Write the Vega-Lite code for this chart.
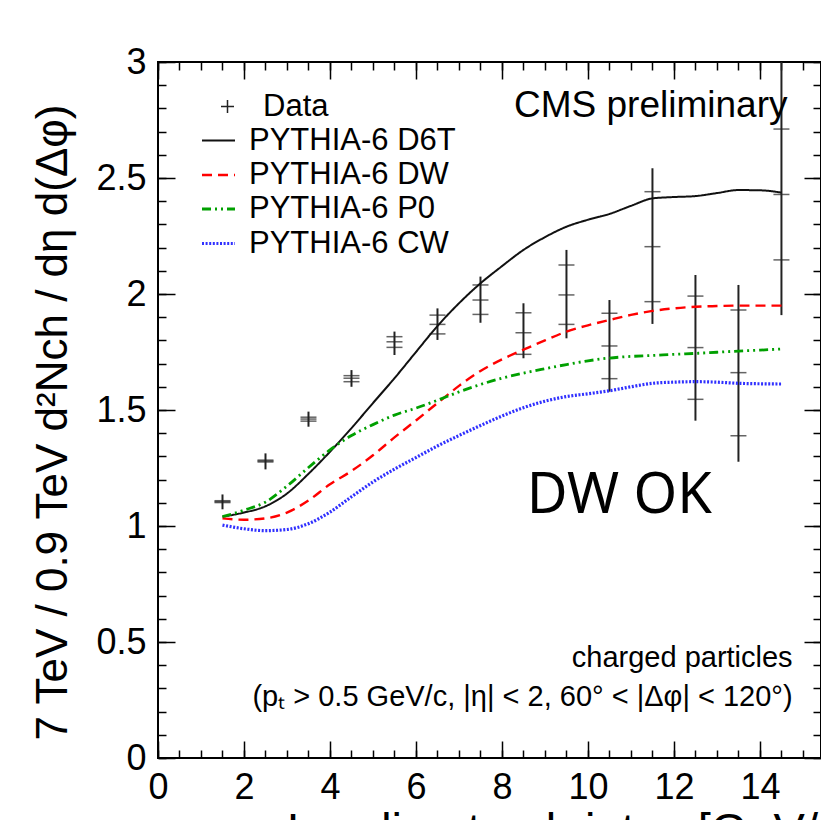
{
  "$schema": "https://vega.github.io/schema/vega-lite/v6.json",
  "width": 663,
  "height": 696,
  "autosize": {"type": "none"},
  "padding": {"left": 158, "top": 62, "right": 0, "bottom": 62},
  "background": "white",
  "config": {
    "font": "Liberation Sans",
    "view": {"stroke": "black", "strokeWidth": 2},
    "legend": {"padding": 0, "titlePadding": 0, "labelLimit": 500}
  },
  "datasets": {
    "pts": [
      {"x": 1.5, "val": 1.105, "lo": 1.072, "hi": 1.136, "slo": 1.101, "shi": 1.109},
      {"x": 2.5, "val": 1.280, "lo": 1.244, "hi": 1.313, "slo": 1.276, "shi": 1.284},
      {"x": 3.5, "val": 1.461, "lo": 1.428, "hi": 1.493, "slo": 1.452, "shi": 1.469},
      {"x": 4.5, "val": 1.637, "lo": 1.600, "hi": 1.672, "slo": 1.622, "shi": 1.648},
      {"x": 5.5, "val": 1.794, "lo": 1.737, "hi": 1.838, "slo": 1.770, "shi": 1.816},
      {"x": 6.5, "val": 1.869, "lo": 1.802, "hi": 1.938, "slo": 1.828, "shi": 1.909},
      {"x": 7.5, "val": 1.974, "lo": 1.876, "hi": 2.075, "slo": 1.912, "shi": 2.039},
      {"x": 8.5, "val": 1.833, "lo": 1.723, "hi": 1.960, "slo": 1.740, "shi": 1.919},
      {"x": 9.5, "val": 1.996, "lo": 1.809, "hi": 2.190, "slo": 1.869, "shi": 2.125},
      {"x": 10.5, "val": 1.776, "lo": 1.579, "hi": 1.974, "slo": 1.635, "shi": 1.917},
      {"x": 11.5, "val": 2.204, "lo": 1.871, "hi": 2.542, "slo": 1.967, "shi": 2.441},
      {"x": 12.5, "val": 1.769, "lo": 1.454, "hi": 2.082, "slo": 1.546, "shi": 1.991},
      {"x": 13.5, "val": 1.661, "lo": 1.277, "hi": 2.039, "slo": 1.389, "shi": 1.931},
      {"x": 14.5, "val": 2.429, "lo": 1.909, "hi": 3.0, "slo": 2.147, "shi": 2.711}
    ],
    "curves": [
      {"model": "PYTHIA-6 D6T", "x": 1.5, "y": 1.040}, {"model": "PYTHIA-6 D6T", "x": 2.0, "y": 1.058},
      {"model": "PYTHIA-6 D6T", "x": 2.5, "y": 1.085}, {"model": "PYTHIA-6 D6T", "x": 3.0, "y": 1.140},
      {"model": "PYTHIA-6 D6T", "x": 3.5, "y": 1.225}, {"model": "PYTHIA-6 D6T", "x": 4.0, "y": 1.320},
      {"model": "PYTHIA-6 D6T", "x": 4.5, "y": 1.422}, {"model": "PYTHIA-6 D6T", "x": 5.0, "y": 1.530},
      {"model": "PYTHIA-6 D6T", "x": 5.5, "y": 1.637}, {"model": "PYTHIA-6 D6T", "x": 6.0, "y": 1.750},
      {"model": "PYTHIA-6 D6T", "x": 6.5, "y": 1.862}, {"model": "PYTHIA-6 D6T", "x": 7.0, "y": 1.960},
      {"model": "PYTHIA-6 D6T", "x": 7.5, "y": 2.046}, {"model": "PYTHIA-6 D6T", "x": 8.0, "y": 2.120},
      {"model": "PYTHIA-6 D6T", "x": 8.5, "y": 2.190}, {"model": "PYTHIA-6 D6T", "x": 9.0, "y": 2.245},
      {"model": "PYTHIA-6 D6T", "x": 9.5, "y": 2.290}, {"model": "PYTHIA-6 D6T", "x": 10.0, "y": 2.320},
      {"model": "PYTHIA-6 D6T", "x": 10.5, "y": 2.345}, {"model": "PYTHIA-6 D6T", "x": 11.0, "y": 2.380},
      {"model": "PYTHIA-6 D6T", "x": 11.5, "y": 2.412}, {"model": "PYTHIA-6 D6T", "x": 12.0, "y": 2.418},
      {"model": "PYTHIA-6 D6T", "x": 12.5, "y": 2.422}, {"model": "PYTHIA-6 D6T", "x": 13.0, "y": 2.435},
      {"model": "PYTHIA-6 D6T", "x": 13.5, "y": 2.448}, {"model": "PYTHIA-6 D6T", "x": 14.0, "y": 2.447},
      {"model": "PYTHIA-6 D6T", "x": 14.5, "y": 2.437},
      {"model": "PYTHIA-6 DW", "x": 1.5, "y": 1.033}, {"model": "PYTHIA-6 DW", "x": 2.0, "y": 1.027},
      {"model": "PYTHIA-6 DW", "x": 2.5, "y": 1.033}, {"model": "PYTHIA-6 DW", "x": 3.0, "y": 1.058},
      {"model": "PYTHIA-6 DW", "x": 3.5, "y": 1.110}, {"model": "PYTHIA-6 DW", "x": 4.0, "y": 1.180},
      {"model": "PYTHIA-6 DW", "x": 4.5, "y": 1.237}, {"model": "PYTHIA-6 DW", "x": 5.0, "y": 1.305},
      {"model": "PYTHIA-6 DW", "x": 5.5, "y": 1.382}, {"model": "PYTHIA-6 DW", "x": 6.0, "y": 1.455},
      {"model": "PYTHIA-6 DW", "x": 6.5, "y": 1.530}, {"model": "PYTHIA-6 DW", "x": 7.0, "y": 1.604},
      {"model": "PYTHIA-6 DW", "x": 7.5, "y": 1.668}, {"model": "PYTHIA-6 DW", "x": 8.0, "y": 1.718},
      {"model": "PYTHIA-6 DW", "x": 8.5, "y": 1.760}, {"model": "PYTHIA-6 DW", "x": 9.0, "y": 1.800},
      {"model": "PYTHIA-6 DW", "x": 9.5, "y": 1.838}, {"model": "PYTHIA-6 DW", "x": 10.0, "y": 1.865},
      {"model": "PYTHIA-6 DW", "x": 10.5, "y": 1.888}, {"model": "PYTHIA-6 DW", "x": 11.0, "y": 1.910},
      {"model": "PYTHIA-6 DW", "x": 11.5, "y": 1.927}, {"model": "PYTHIA-6 DW", "x": 12.0, "y": 1.938},
      {"model": "PYTHIA-6 DW", "x": 12.5, "y": 1.945}, {"model": "PYTHIA-6 DW", "x": 13.0, "y": 1.948},
      {"model": "PYTHIA-6 DW", "x": 13.5, "y": 1.950}, {"model": "PYTHIA-6 DW", "x": 14.0, "y": 1.950},
      {"model": "PYTHIA-6 DW", "x": 14.5, "y": 1.950},
      {"model": "PYTHIA-6 P0", "x": 1.5, "y": 1.040}, {"model": "PYTHIA-6 P0", "x": 2.0, "y": 1.068},
      {"model": "PYTHIA-6 P0", "x": 2.5, "y": 1.103}, {"model": "PYTHIA-6 P0", "x": 3.0, "y": 1.172},
      {"model": "PYTHIA-6 P0", "x": 3.5, "y": 1.252}, {"model": "PYTHIA-6 P0", "x": 4.0, "y": 1.328},
      {"model": "PYTHIA-6 P0", "x": 4.5, "y": 1.390}, {"model": "PYTHIA-6 P0", "x": 5.0, "y": 1.437},
      {"model": "PYTHIA-6 P0", "x": 5.5, "y": 1.478}, {"model": "PYTHIA-6 P0", "x": 6.0, "y": 1.508},
      {"model": "PYTHIA-6 P0", "x": 6.5, "y": 1.542}, {"model": "PYTHIA-6 P0", "x": 7.0, "y": 1.578},
      {"model": "PYTHIA-6 P0", "x": 7.5, "y": 1.610}, {"model": "PYTHIA-6 P0", "x": 8.0, "y": 1.637},
      {"model": "PYTHIA-6 P0", "x": 8.5, "y": 1.659}, {"model": "PYTHIA-6 P0", "x": 9.0, "y": 1.678},
      {"model": "PYTHIA-6 P0", "x": 9.5, "y": 1.696}, {"model": "PYTHIA-6 P0", "x": 10.0, "y": 1.712},
      {"model": "PYTHIA-6 P0", "x": 10.5, "y": 1.724}, {"model": "PYTHIA-6 P0", "x": 11.0, "y": 1.731},
      {"model": "PYTHIA-6 P0", "x": 11.5, "y": 1.735}, {"model": "PYTHIA-6 P0", "x": 12.0, "y": 1.740},
      {"model": "PYTHIA-6 P0", "x": 12.5, "y": 1.744}, {"model": "PYTHIA-6 P0", "x": 13.0, "y": 1.749},
      {"model": "PYTHIA-6 P0", "x": 13.5, "y": 1.754}, {"model": "PYTHIA-6 P0", "x": 14.0, "y": 1.758},
      {"model": "PYTHIA-6 P0", "x": 14.5, "y": 1.763},
      {"model": "PYTHIA-6 CW", "x": 1.5, "y": 1.004}, {"model": "PYTHIA-6 CW", "x": 2.0, "y": 0.988},
      {"model": "PYTHIA-6 CW", "x": 2.5, "y": 0.980}, {"model": "PYTHIA-6 CW", "x": 3.0, "y": 0.985},
      {"model": "PYTHIA-6 CW", "x": 3.5, "y": 1.010}, {"model": "PYTHIA-6 CW", "x": 4.0, "y": 1.060},
      {"model": "PYTHIA-6 CW", "x": 4.5, "y": 1.126}, {"model": "PYTHIA-6 CW", "x": 5.0, "y": 1.190},
      {"model": "PYTHIA-6 CW", "x": 5.5, "y": 1.245}, {"model": "PYTHIA-6 CW", "x": 6.0, "y": 1.295},
      {"model": "PYTHIA-6 CW", "x": 6.5, "y": 1.345}, {"model": "PYTHIA-6 CW", "x": 7.0, "y": 1.390},
      {"model": "PYTHIA-6 CW", "x": 7.5, "y": 1.433}, {"model": "PYTHIA-6 CW", "x": 8.0, "y": 1.474},
      {"model": "PYTHIA-6 CW", "x": 8.5, "y": 1.510}, {"model": "PYTHIA-6 CW", "x": 9.0, "y": 1.538},
      {"model": "PYTHIA-6 CW", "x": 9.5, "y": 1.558}, {"model": "PYTHIA-6 CW", "x": 10.0, "y": 1.570},
      {"model": "PYTHIA-6 CW", "x": 10.5, "y": 1.583}, {"model": "PYTHIA-6 CW", "x": 11.0, "y": 1.600},
      {"model": "PYTHIA-6 CW", "x": 11.5, "y": 1.615}, {"model": "PYTHIA-6 CW", "x": 12.0, "y": 1.620},
      {"model": "PYTHIA-6 CW", "x": 12.5, "y": 1.622}, {"model": "PYTHIA-6 CW", "x": 13.0, "y": 1.620},
      {"model": "PYTHIA-6 CW", "x": 13.5, "y": 1.615}, {"model": "PYTHIA-6 CW", "x": 14.0, "y": 1.613},
      {"model": "PYTHIA-6 CW", "x": 14.5, "y": 1.612}
    ]
  },
  "layer": [
    {
      "data": {"name": "pts"},
      "mark": {"type": "rule", "strokeWidth": 2},
      "encoding": {
        "x": {"field": "x", "type": "quantitative",
          "scale": {"domain": [0, 15.42], "nice": false, "zero": false},
          "axis": {"orient": "bottom", "values": [0, 2, 4, 6, 8, 10, 12, 14], "ticks": false, "domain": false, "grid": false,
            "labelFontSize": 36, "labelPadding": 12, "labelColor": "black", "labelFlush": false, "labelOverlap": false, "labelBound": false,
            "title": "Leading track-jet pₜ [GeV/c]", "titleFontSize": 47, "titleFontWeight": "normal", "titleColor": "black",
            "titleAnchor": "end", "titleAlign": "right", "titleBaseline": "top", "titleX": 696, "titleY": 50}},
        "y": {"field": "lo", "type": "quantitative",
          "scale": {"domain": [0, 3], "nice": false, "zero": false},
          "axis": {"orient": "left", "values": [0, 0.5, 1, 1.5, 2, 2.5, 3], "format": "~g", "ticks": false, "domain": false, "grid": false,
            "labelFontSize": 36, "labelPadding": 12, "labelColor": "black", "labelFlush": false, "labelOverlap": false, "labelBound": false,
            "title": "7 TeV / 0.9 TeV  d²Nch / dη d(Δφ)", "titleFontSize": 44, "titleFontWeight": "normal", "titleColor": "black",
            "titleAnchor": "middle", "titleY": 360, "titlePadding": 20}},
        "y2": {"field": "hi"},
        "color": {"datum": "Data", "scale": {"domain": ["Data"], "range": ["#222222"]},
          "legend": {"orient": "none", "legendX": 54, "legendY": 29, "title": null,
            "symbolType": "M-1,0H1M0,-1V1", "symbolSize": 169, "symbolStrokeWidth": 1.5, "symbolFillColor": "transparent",
            "labelFont": "Liberation Sans", "labelFontSize": 31, "labelColor": "black", "labelOffset": 20}}
      }
    },
    {
      "data": {"name": "pts"},
      "transform": [{"fold": ["val", "slo", "shi"], "as": ["k", "yv"]}],
      "mark": {"type": "tick", "orient": "horizontal", "size": 16, "thickness": 1.5, "color": "#222222"},
      "encoding": {
        "x": {"field": "x", "type": "quantitative",
          "scale": {"domain": [0, 15.42], "nice": false, "zero": false},
          "axis": {"orient": "bottom", "values": [0, 2, 4, 6, 8, 10, 12, 14], "tickSize": -17, "tickWidth": 1.5, "tickColor": "black",
            "labels": false, "domain": false, "grid": false, "title": null}},
        "y": {"field": "yv", "type": "quantitative",
          "scale": {"domain": [0, 3], "nice": false, "zero": false},
          "axis": {"orient": "left", "values": [0, 0.5, 1, 1.5, 2, 2.5, 3], "tickSize": -17, "tickWidth": 1.5, "tickColor": "black",
            "labels": false, "domain": false, "grid": false, "title": null}}
      }
    },
    {
      "data": {"name": "curves"},
      "mark": {"type": "line", "interpolate": "monotone"},
      "encoding": {
        "x": {"field": "x", "type": "quantitative",
          "scale": {"domain": [0, 15.42], "nice": false, "zero": false},
          "axis": {"orient": "top", "values": [0, 2, 4, 6, 8, 10, 12, 14], "tickSize": -17, "tickWidth": 1.5, "tickColor": "black",
            "labels": false, "domain": false, "grid": false, "title": null}},
        "y": {"field": "y", "type": "quantitative",
          "scale": {"domain": [0, 3], "nice": false, "zero": false},
          "axis": {"orient": "right", "values": [0, 0.5, 1, 1.5, 2, 2.5, 3], "tickSize": -17, "tickWidth": 1.5, "tickColor": "black",
            "labels": false, "domain": false, "grid": false, "title": null}},
        "color": {"field": "model", "type": "nominal",
          "scale": {"domain": ["PYTHIA-6 D6T", "PYTHIA-6 DW", "PYTHIA-6 P0", "PYTHIA-6 CW"], "range": ["#111111", "#ff0000", "#00a000", "#3030ff"]},
          "legend": {"orient": "none", "legendX": 42, "legendY": 61, "title": null, "symbolType": "stroke", "symbolSize": 1089,
            "labelFont": "Liberation Sans", "labelFontSize": 31, "labelColor": "black", "labelOffset": 12, "rowPadding": 1, "labelLimit": 500}},
        "strokeDash": {"field": "model", "type": "nominal",
          "scale": {"domain": ["PYTHIA-6 D6T", "PYTHIA-6 DW", "PYTHIA-6 P0", "PYTHIA-6 CW"], "range": [[1, 0], [10, 6], [9, 4, 2, 4, 2, 4], [2, 1.6]]},
          "legend": {"orient": "none", "legendX": 42, "legendY": 61, "title": null, "symbolType": "stroke", "symbolSize": 1089,
            "labelFont": "Liberation Sans", "labelFontSize": 31, "labelColor": "black", "labelOffset": 12, "rowPadding": 1, "labelLimit": 500}},
        "strokeWidth": {"field": "model", "type": "nominal",
          "scale": {"domain": ["PYTHIA-6 D6T", "PYTHIA-6 DW", "PYTHIA-6 P0", "PYTHIA-6 CW"], "range": [2, 3.2, 3.2, 3]},
          "legend": {"orient": "none", "legendX": 42, "legendY": 61, "title": null, "symbolType": "stroke", "symbolSize": 1089,
            "labelFont": "Liberation Sans", "labelFontSize": 31, "labelColor": "black", "labelOffset": 12, "rowPadding": 1, "labelLimit": 500}}
      }
    },
    {
      "data": {"values": [{"label": "CMS preliminary", "x": 14.64, "y": 2.764}]},
      "mark": {"type": "text", "align": "right", "baseline": "alphabetic", "fontSize": 37, "font": "Liberation Sans", "color": "black"},
      "encoding": {
        "x": {"field": "x", "type": "quantitative",
          "scale": {"domain": [0, 15.42], "nice": false, "zero": false},
          "axis": {"orient": "bottom", "values": [0, 0.5, 1, 1.5, 2, 2.5, 3, 3.5, 4, 4.5, 5, 5.5, 6, 6.5, 7, 7.5, 8, 8.5, 9, 9.5, 10, 10.5, 11, 11.5, 12, 12.5, 13, 13.5, 14, 14.5, 15],
            "tickSize": -8, "tickWidth": 1.5, "tickColor": "black", "labels": false, "domain": false, "grid": false, "title": null}},
        "y": {"field": "y", "type": "quantitative",
          "scale": {"domain": [0, 3], "nice": false, "zero": false},
          "axis": {"orient": "left", "values": [0, 0.1, 0.2, 0.3, 0.4, 0.5, 0.6, 0.7, 0.8, 0.9, 1, 1.1, 1.2, 1.3, 1.4, 1.5, 1.6, 1.7, 1.8, 1.9, 2, 2.1, 2.2, 2.3, 2.4, 2.5, 2.6, 2.7, 2.8, 2.9, 3],
            "tickSize": -8, "tickWidth": 1.5, "tickColor": "black", "labels": false, "domain": false, "grid": false, "title": null}},
        "text": {"field": "label"}
      }
    },
    {
      "data": {"values": [{"label": "charged particles", "x": 14.76, "y": 0.394}]},
      "mark": {"type": "text", "align": "right", "baseline": "alphabetic", "fontSize": 29, "font": "Liberation Sans", "color": "black"},
      "encoding": {
        "x": {"field": "x", "type": "quantitative",
          "scale": {"domain": [0, 15.42], "nice": false, "zero": false},
          "axis": {"orient": "top", "values": [0, 0.5, 1, 1.5, 2, 2.5, 3, 3.5, 4, 4.5, 5, 5.5, 6, 6.5, 7, 7.5, 8, 8.5, 9, 9.5, 10, 10.5, 11, 11.5, 12, 12.5, 13, 13.5, 14, 14.5, 15],
            "tickSize": -8, "tickWidth": 1.5, "tickColor": "black", "labels": false, "domain": false, "grid": false, "title": null}},
        "y": {"field": "y", "type": "quantitative",
          "scale": {"domain": [0, 3], "nice": false, "zero": false},
          "axis": {"orient": "right", "values": [0, 0.1, 0.2, 0.3, 0.4, 0.5, 0.6, 0.7, 0.8, 0.9, 1, 1.1, 1.2, 1.3, 1.4, 1.5, 1.6, 1.7, 1.8, 1.9, 2, 2.1, 2.2, 2.3, 2.4, 2.5, 2.6, 2.7, 2.8, 2.9, 3],
            "tickSize": -8, "tickWidth": 1.5, "tickColor": "black", "labels": false, "domain": false, "grid": false, "title": null}},
        "text": {"field": "label"}
      }
    },
    {
      "data": {"values": [{"label": "(pₜ > 0.5 GeV/c, |η| < 2, 60° < |Δφ| < 120°)", "x": 14.76, "y": 0.224}]},
      "mark": {"type": "text", "align": "right", "baseline": "alphabetic", "fontSize": 29, "font": "Liberation Sans", "color": "black"},
      "encoding": {
        "x": {"field": "x", "type": "quantitative", "scale": {"domain": [0, 15.42], "nice": false, "zero": false}, "axis": null},
        "y": {"field": "y", "type": "quantitative", "scale": {"domain": [0, 3], "nice": false, "zero": false}, "axis": null},
        "text": {"field": "label"}
      }
    },
    {
      "data": {"values": [{"label": "DW OK", "x": 10.73, "y": 1.055}]},
      "mark": {"type": "text", "align": "center", "baseline": "alphabetic", "fontSize": 56, "font": "Noto Sans", "color": "black"},
      "encoding": {
        "x": {"field": "x", "type": "quantitative", "scale": {"domain": [0, 15.42], "nice": false, "zero": false}, "axis": null},
        "y": {"field": "y", "type": "quantitative", "scale": {"domain": [0, 3], "nice": false, "zero": false}, "axis": null},
        "text": {"field": "label"}
      }
    }
  ],
  "resolve": {
    "scale": {"color": "independent", "strokeDash": "independent", "strokeWidth": "independent"},
    "legend": {"color": "independent", "strokeDash": "independent", "strokeWidth": "independent"},
    "axis": {"x": "independent", "y": "independent"}
  }
}
